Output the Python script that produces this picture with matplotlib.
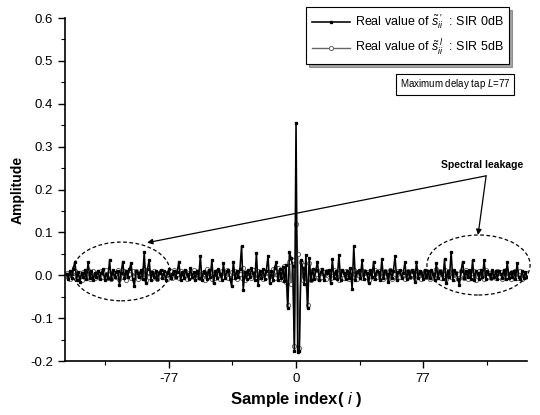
import matplotlib
matplotlib.use("Agg")
import matplotlib.pyplot as plt
from matplotlib.patches import Ellipse

plt.rcParams["font.family"] = ["Liberation Sans", "DejaVu Sans"]
plt.rcParams["axes.unicode_minus"] = False
plt.rcParams["mathtext.fontset"] = "custom"
plt.rcParams["mathtext.rm"] = "Liberation Sans"
plt.rcParams["mathtext.it"] = "Liberation Sans:italic"
plt.rcParams["mathtext.bf"] = "Liberation Sans:bold"

# sample index i
sample_idx = list(range(-139, 141))

# real value, SIR 0dB (black)
sir0 = [
    .004, -.008, .010, -.006, .015, .032, -.010, .008, -.015, .006,
    -.004, .012, -.009, .030, -.006, .010, -.012, .005, -.003, .011,
    -.008, .006, .014, -.010, .004, -.006, .035, -.009, .012, -.005,
    .008, .010, -.023, .006, .032, -.007, .009, -.004, .014, .028,
    -.008, -.025, .010, .006, -.005, .012, -.009, .054, -.019, .015,
    .036, -.010, .007, -.004, .011, -.008, .005, .013, -.006, .009,
    -.011, .006, .014, -.007, .004, .010, -.005, .008, .032, -.012,
    .007, -.006, .012, .003, -.009, .016, -.004, .008, -.010, .011,
    -.006, .045, -.012, .009, .005, -.008, .013, -.004, .036, -.019,
    .010, -.006, .014, .004, -.010, .028, -.007, .009, .012, -.008,
    -.026, .032, -.006, .010, -.004, .015, .068, -.034, .008, -.009,
    .012, -.005, .016, .006, -.012, .052, -.023, .010, -.006, .014,
    -.008, .010, .045, -.019, .009, -.010, .018, .030, -.012, .014,
    -.006, .020, -.014, .025, -.077, .054, .040, .022, -.176, .355,
    -.178, -.176, .035, .018, -.020, .047, -.077, .040, -.010, .015,
    -.008, .012, .032, -.010, .008, .014, -.012, .010, .006, .013,
    -.019, .037, -.006, .010, -.008, .047, -.010, .012, .005, -.009,
    .011, -.006, .016, -.033, .068, -.010, .008, .012, -.007, .035,
    -.008, .010, .006, -.019, .012, -.005, .032, -.009, .010, .007,
    -.010, .037, -.007, .011, .004, -.015, .013, -.006, .009, .045,
    -.010, .008, .012, -.007, .006, .030, -.009, .010, -.004, .012,
    .008, -.015, .032, -.006, .010, .005, -.009, .013, -.005, .009,
    -.007, .012, .004, -.010, .028, -.006, .011, .006, -.008, .037,
    -.017, .010, -.004, .054, -.010, .012, .006, -.008, -.023, .011,
    .032, -.007, .010, -.005, .013, -.008, .035, -.011, .009, .005,
    -.008, .012, -.004, .035, -.009, .010, .004, -.007, .012, -.005,
    .009, -.008, .011, .004, -.006, .013, -.009, .030, -.006, .008,
    -.004, .011, -.008, .028, -.005, -.008, .010, -.006, .008, -.004,
]

# real value, SIR 5dB (grey, circles)
sir5 = [
    .006, -.004, -.009, .008, -.003, .011, .002, -.007, .005, -.010,
    .007, -.005, .004, .012, -.008, .003, .009, -.006, -.002, .008,
    -.007, .010, -.004, .005, .013, -.006, .003, -.009, .008, .002,
    -.005, .012, -.008, .004, -.003, .010, -.011, .006, .003, -.007,
    .009, -.004, .011, -.008, .005, .002, -.006, .015, -.010, .007,
    -.003, .008, -.007, .010, .004, -.009, .006, -.002, .011, -.005,
    .006, -.008, .003, .009, -.006, .012, -.004, .002, -.007, .010,
    -.005, .004, .011, -.009, .006, -.003, .008, .013, -.006, .002,
    .009, -.007, .005, .003, -.010, .014, -.004, .007, -.008, .004,
    -.006, .011, .002, -.008, .009, -.004, .006, .012, -.007, .003,
    .008, -.005, .010, -.009, .004, .002, -.006, .016, -.011, .007,
    -.004, .009, -.007, .013, .005, -.008, .010, -.003, .006, -.009,
    .011, -.005, .008, .003, -.010, .014, -.006, .009, .018, -.008,
    .012, -.010, .022, -.015, -.070, .030, -.020, .035, -.165, .120,
    .050, -.170, .030, -.012, .025, -.015, -.070, .028, -.010, .012,
    -.006, .009, .004, -.008, .012, -.005, .007, -.009, .010, .003,
    -.007, .008, .012, -.004, .006, -.010, .011, .002, -.006, .009,
    .004, -.008, .010, -.005, .013, .002, -.009, .007, .005, -.006,
    .011, -.004, .008, -.010, .006, .003, -.007, .012, -.005, .009,
    -.003, .007, -.009, .010, .004, -.006, .013, -.008, .005, .002,
    -.007, .011, -.004, .008, .003, -.009, .006, .010, -.005, .004,
    .009, -.006, .012, -.003, .007, -.008, .005, .011, -.004, .006,
    -.009, .008, .003, -.006, .014, -.005, .009, -.007, .004, .012,
    -.008, .006, .010, -.004, .011, -.009, .005, .003, -.007, .010,
    .004, -.006, .012, -.008, .007, .002, -.005, .009, -.010, .006,
    .011, -.004, .007, -.009, .013, -.003, .006, -.007, .008, .002,
    -.006, .010, -.003, .008, -.008, .005, .012, -.005, .004, -.009,
    .007, -.004, .010, -.006, .003, .011, -.008, .005, -.003, .006,
]

x_ticks = [-77, 0, 77]
series_labels = [r"Real value of $\tilde{s}^{\,\prime}_{ii}$  : SIR 0dB",
                 r"Real value of $\tilde{s}^{\,l}_{ii}$  : SIR 5dB"]

fig = plt.figure(figsize=(5.4, 4.15), dpi=100)
ax = fig.add_axes([0.1204, 0.130, 0.8556, 0.8265])

ax.plot(sample_idx, sir5, color="0.4", lw=1.0, marker="o", ms=3,
        mfc="white", mec="0.4", mew=0.7, label=series_labels[1], zorder=2)
ax.plot(sample_idx, sir0, color="black", lw=1.15, marker="s", ms=1.4,
        label=series_labels[0], zorder=3)

ax.set_xlim(-140, 140)
ax.set_ylim(-0.2, 0.6)
ax.set_xticks(x_ticks)
ax.set_xticks([-115.5, -38.5, 38.5, 115.5], minor=True)
ax.set_yticks([-0.2, -0.1, 0.0, 0.1, 0.2, 0.3, 0.4, 0.5, 0.6])
ax.set_yticks([-0.15, -0.05, 0.05, 0.15, 0.25, 0.35, 0.45, 0.55], minor=True)
ax.set_yticklabels(["-0.2", "-0.1", "0.0", "0.1", "0.2", "0.3", "0.4", "0.5", "0.6"])
ax.tick_params(which="major", direction="out", length=5, width=1, labelsize=9.5)
ax.tick_params(which="minor", direction="out", length=3, width=0.8)
for side in ("top", "right"):
    ax.spines[side].set_visible(False)
for side in ("left", "bottom"):
    ax.spines[side].set_linewidth(1.2)

ax.set_xlabel(r"Sample index( $\mathbf{\it{i}}$ )", fontsize=12, fontweight="bold", labelpad=4)
ax.set_ylabel("Amplitude", fontsize=10, fontweight="bold", labelpad=4)

handles, labels = ax.get_legend_handles_labels()
leg = ax.legend(handles[::-1], labels[::-1], loc="upper right",
                bbox_to_anchor=(0.961, 1.032), fontsize=9, frameon=True,
                fancybox=False, shadow=True, edgecolor="black",
                handlelength=3.0, borderpad=0.45, labelspacing=0.55,
                handletextpad=0.4, borderaxespad=0)
leg.get_frame().set_linewidth(0.8)

ax.text(0.844, 0.807, r"Maximum delay tap $L$=77", transform=ax.transAxes,
        fontsize=7, ha="center", va="center",
        bbox=dict(boxstyle="square,pad=0.35", fc="white", ec="black", lw=0.8))

# spectral leakage regions
ax.add_patch(Ellipse((-105.9, 0.009), 58.9, 0.137, fill=False,
                     ls=(0, (3, 2)), lw=0.9, ec="black", zorder=4))
ax.add_patch(Ellipse((110.6, 0.024), 62.5, 0.140, fill=False,
                     ls=(0, (3, 2)), lw=0.9, ec="black", zorder=4, clip_on=False))
ax.text(112.8, 0.258, "Spectral leakage", fontsize=7.5, fontweight="bold",
        ha="center", va="center")
for tip in [(-90.3, 0.076), (110.3, 0.094)]:
    ax.annotate("", xy=tip, xytext=(115.2, 0.232),
                arrowprops=dict(arrowstyle="-|>", lw=0.9, color="black",
                                mutation_scale=8, shrinkA=0, shrinkB=0))

fig.savefig("out.png", dpi=100)
